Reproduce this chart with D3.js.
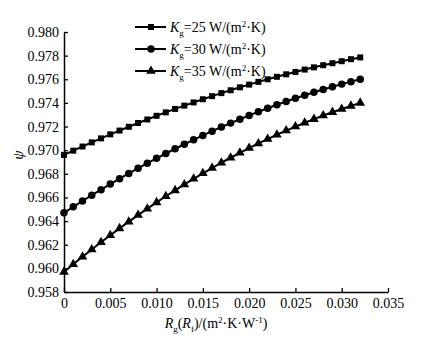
<!DOCTYPE html>
<html><head><meta charset="utf-8">
<script src="https://cdn.jsdelivr.net/npm/d3@7"></script>
<style>body{margin:0;background:#fff}svg{display:block}text{font-family:"Liberation Serif","Times New Roman",serif;fill:#000}</style>
</head><body>
<script>
const xValues = [0,0.001,0.002,0.003,0.004,0.005,0.006,0.007,0.008,0.009,0.010,0.011,0.012,0.013,0.014,0.015,0.016,0.017,0.018,0.019,0.020,0.021,0.022,0.023,0.024,0.025,0.026,0.027,0.028,0.029,0.030,0.031,0.032];
const seriesK25 = [0.96960,0.96996,0.97031,0.97066,0.97100,0.97134,0.97166,0.97198,0.97230,0.97260,0.97291,0.97320,0.97349,0.97377,0.97404,0.97431,0.97457,0.97483,0.97507,0.97532,0.97555,0.97578,0.97600,0.97621,0.97642,0.97662,0.97682,0.97701,0.97719,0.97736,0.97753,0.97770,0.97785];
const seriesK30 = [0.96470,0.96521,0.96570,0.96619,0.96666,0.96713,0.96759,0.96803,0.96847,0.96890,0.96931,0.96972,0.97012,0.97050,0.97088,0.97125,0.97161,0.97196,0.97229,0.97262,0.97294,0.97325,0.97355,0.97384,0.97412,0.97439,0.97465,0.97490,0.97514,0.97537,0.97559,0.97580,0.97600];
const seriesK35 = [0.95970,0.96035,0.96098,0.96160,0.96221,0.96280,0.96338,0.96395,0.96451,0.96505,0.96558,0.96610,0.96660,0.96710,0.96758,0.96804,0.96849,0.96894,0.96936,0.96978,0.97018,0.97057,0.97094,0.97131,0.97166,0.97200,0.97232,0.97263,0.97293,0.97322,0.97349,0.97375,0.97400];
const legendValues = ["25","30","35"];
const xTicks = [0,0.005,0.010,0.015,0.020,0.025,0.030,0.035];
const yTicks = [0.958,0.960,0.962,0.964,0.966,0.968,0.970,0.972,0.974,0.976,0.978,0.980];

const W = 426, H = 343;
const svg = d3.select("body").append("svg").attr("width", W).attr("height", H);
const x = d3.scaleLinear().domain([0, 0.035]).range([64, 388]);
const y = d3.scaleLinear().domain([0.958, 0.980]).range([292, 32]);

const xAxis = d3.axisBottom(x).tickValues(xTicks).tickSizeInner(-4).tickSizeOuter(0).tickPadding(6)
  .tickFormat(d => d === 0 ? "0" : d3.format(".3f")(d));
const yAxis = d3.axisLeft(y).tickValues(yTicks).tickSizeInner(-4).tickSizeOuter(0).tickPadding(5)
  .tickFormat(d3.format(".3f"));

const gx = svg.append("g").attr("transform", "translate(0,292)").call(xAxis);
const gy = svg.append("g").attr("transform", "translate(64,0)").call(yAxis);
[gx, gy].forEach(g => {
  g.selectAll("path.domain").attr("stroke", "#000").attr("stroke-width", 1.5);
  g.selectAll(".tick line").attr("stroke", "#000").attr("stroke-width", 1.3);
  g.selectAll(".tick text").style("font-family", '"Liberation Serif", serif').style("font-size", "14px").attr("fill", "#000");
});
gx.selectAll(".tick text").attr("dy", "0.72em");

const series = [
  {vals: seriesK25, sym: d3.symbolSquare, size: 36},
  {vals: seriesK30, sym: d3.symbolCircle, size: 44},
  {vals: seriesK35, sym: d3.symbolTriangle, size: 40}
];
const line = d3.line().x((d, i) => x(xValues[i])).y(d => y(d));
series.forEach(s => {
  svg.append("path").datum(s.vals).attr("d", line).attr("fill", "none").attr("stroke", "#000").attr("stroke-width", 2);
  svg.append("g").selectAll("path").data(s.vals).join("path")
    .attr("transform", (d, i) => `translate(${x(xValues[i])},${y(d)})`)
    .attr("d", d3.symbol().type(s.sym).size(s.size)).attr("fill", "#000");
});

// legend
const legY = [27, 49, 71];
series.forEach((s, i) => {
  const g = svg.append("g").attr("transform", `translate(0,${legY[i]})`);
  g.append("line").attr("x1", 135).attr("x2", 166).attr("y1", 0).attr("y2", 0).attr("stroke", "#000").attr("stroke-width", 2);
  g.append("path").attr("transform", "translate(151,0)").attr("d", d3.symbol().type(s.sym).size(s.size)).attr("fill", "#000");
  const t = g.append("text").attr("x", 170).attr("y", 5).style("font-size", "14px");
  t.append("tspan").style("font-style", "italic").text("K");
  t.append("tspan").attr("dy", 4).style("font-size", "9px").text("g");
  t.append("tspan").attr("dy", -4).text("=" + legendValues[i] + " W/(m");
  t.append("tspan").attr("dy", -5).style("font-size", "9px").text("2");
  t.append("tspan").attr("dy", 5).text("·K)");
});

// x title
const xt = svg.append("text").attr("x", 216).attr("y", 328).attr("text-anchor", "middle").style("font-size", "14px");
xt.append("tspan").style("font-style", "italic").text("R");
xt.append("tspan").attr("dy", 4).style("font-size", "9px").text("g");
xt.append("tspan").attr("dy", -4).text("(");
xt.append("tspan").style("font-style", "italic").text("R");
xt.append("tspan").attr("dy", 4).style("font-size", "9px").text("f");
xt.append("tspan").attr("dy", -4).text(")/(m");
xt.append("tspan").attr("dy", -5).style("font-size", "9px").text("2");
xt.append("tspan").attr("dy", 5).text("·K·W");
xt.append("tspan").attr("dy", -5).style("font-size", "9px").text("-1");
xt.append("tspan").attr("dy", 5).text(")");

// y title
svg.append("text").attr("transform", "translate(23,155) rotate(-90)").attr("text-anchor", "middle")
  .style("font-size", "15px").style("font-style", "italic").text("ψ");
</script>
</body></html>
